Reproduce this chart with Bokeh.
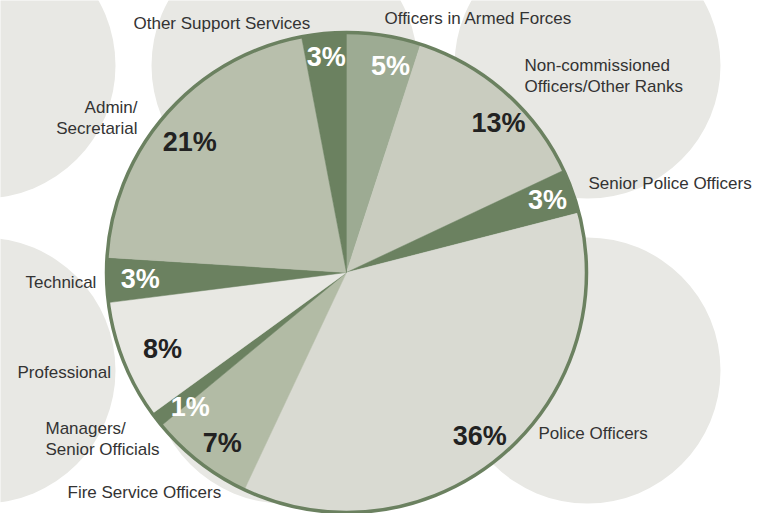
import math
from bokeh.plotting import figure
from bokeh.models import Range1d, ColumnDataSource
from bokeh.core.properties import value
from bokeh.embed import file_html
from bokeh.resources import INLINE

# ---- data ----
categories = ["Officers in Armed Forces", "Non-commissioned Officers/Other Ranks",
              "Senior Police Officers", "Police Officers", "Fire Service Officers",
              "Managers/Senior Officials", "Professional", "Technical",
              "Admin/Secretarial", "Other Support Services"]
shares = [5, 13, 3, 36, 7, 1, 8, 3, 21, 3]
label_lines = [["Officers in Armed Forces"], ["Non-commissioned", "Officers/Other Ranks"],
               ["Senior Police Officers"], ["Police Officers"], ["Fire Service Officers"],
               ["Managers/", "Senior Officials"], ["Professional"], ["Technical"],
               ["Admin/", "Secretarial"], ["Other Support Services"]]

# ---- styles / layout ----
DARK = "#6b8160"
slice_colors = ["#9dab93", "#c9ccbf", DARK, "#d9dad2", "#b2bba5", DARK,
                "#e8e8e3", DARK, "#b8bfac", DARK]
pct_colors = ["white", "#222222", "white", "#222222", "#222222", "white",
              "#222222", "white", "#222222", "white"]
pct_radius = [0.88, 0.89, 0.89, 0.88, 0.88, 0.86, 0.83, 0.86, 0.85, 0.9]
pct_angle_offset = [3, 4, 0, 0.5, -1.8, -3, -1, 0, -1.6, 0]   # degrees, clockwise
# label anchor (x px, first-line y px, align)
label_pos = [(384, 18, "left"), (524, 65, "left"), (588, 183, "left"), (538, 433, "left"),
             (67, 492, "left"), (45, 428, "left"), (17, 372, "left"), (25, 282, "left"),
             (137, 107, "right"), (133, 23, "left")]
line_gap = 21

W, H = 758, 513
def Y(ypx):
    return H - ypx

CX, CY, R = 346, Y(272), 240
bg_cx = [-18, 284, 587, -18, 284, 587]
bg_cy = [65, 65, 65, 370, 370, 370]
BG_R = 133

p = figure(width=W, height=H, x_range=Range1d(0, W), y_range=Range1d(0, H),
           x_axis_location=None, y_axis_location=None, toolbar_location=None,
           output_backend="svg", min_border=0)
p.grid.visible = False
p.outline_line_color = None
p.background_fill_color = "white"
p.border_fill_color = "white"

# background decorative circles
p.circle(x=bg_cx, y=[Y(v) for v in bg_cy], radius=BG_R, fill_color="#e8e8e4",
         line_color=None)

# pie wedges (clockwise from 12 o'clock)
total = sum(shares)
starts, ends, mids = [], [], []
cum = 0.0
for s in shares:
    a0 = cum / total
    cum += s
    a1 = cum / total
    starts.append(math.pi / 2 - 2 * math.pi * a1)
    ends.append(math.pi / 2 - 2 * math.pi * a0)
    mids.append(2 * math.pi * (a0 + a1) / 2)

src = ColumnDataSource(dict(start=starts, end=ends, color=slice_colors))
p.wedge(x=CX, y=CY, radius=R, start_angle="start", end_angle="end",
        fill_color="color", line_color="color", line_width=0.5, source=src)

# outline
p.circle(x=[CX], y=[CY], radius=R, fill_color=None, line_color=DARK, line_width=3.5)

# percentage labels
px, py, pt = [], [], []
for s, m, rf, off in zip(shares, mids, pct_radius, pct_angle_offset):
    a = m + math.radians(off)
    px.append(CX + R * rf * math.sin(a))
    py.append(CY + R * rf * math.cos(a))
    pt.append(f"{s}%")
p.text(x=px, y=py, text=pt, text_color=pct_colors, text_font=value("Liberation Sans"),
       text_font_style="bold", text_font_size="27px", text_align="center",
       text_baseline="middle")

# category labels
for lines, (lx, ly, al) in zip(label_lines, label_pos):
    xs = [lx] * len(lines)
    ys = [Y(ly + i * line_gap) for i in range(len(lines))]
    p.text(x=xs, y=ys, text=lines, text_color="#333333",
           text_font=value("Liberation Sans"), text_font_size="17px",
           text_align=al, text_baseline="middle")

open("out.html", "w").write(file_html(p, INLINE))
